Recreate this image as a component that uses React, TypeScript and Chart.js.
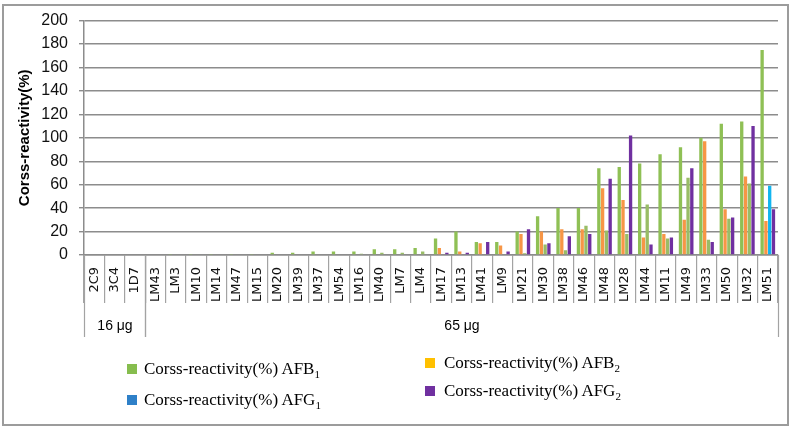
import React, { useEffect, useRef } from 'react';
import { Chart, registerables } from 'chart.js';

Chart.register(...registerables);

const categories = ['2C9', '3C4', '1D7', 'LM43', 'LM3', 'LM10', 'LM14', 'LM47', 'LM15', 'LM20', 'LM39', 'LM37', 'LM54', 'LM16', 'LM40', 'LM7', 'LM4', 'LM17', 'LM13', 'LM41', 'LM9', 'LM21', 'LM30', 'LM38', 'LM46', 'LM48', 'LM28', 'LM44', 'LM11', 'LM49', 'LM33', 'LM50', 'LM32', 'LM51'];

const afb1 = [0, 0, 0, 0, 0.5, 0.5, 0.5, 0.5, 0.5, 2, 2, 3, 3, 3, 5, 5, 6, 14, 20, 11, 11, 20, 33, 40, 40, 74, 75, 78, 86, 92, 100, 112, 114, 175];
const afb2 = [0, 0, 0, 0, 0, 0, 0, 0, 0, 0, 0, 0, 0, 0, 0, 0, 0, 6, 3, 10, 8, 18, 20, 22, 22, 57, 47, 15, 18, 30, 97, 39, 67, 29];
const afg1 = [0, 0, 0, 0, 0, 0, 0, 0, 0, 0, 0, 0, 0, 1, 2, 2, 3, 0, 0, 0, 0, 1.5, 9, 4, 25, 21, 18, 43, 14, 66, 13, 31, 61, 59];
const afg2 = [0, 0, 0, 0, 0, 0, 0, 0, 0, 0, 0, 0, 0, 0, 0, 0, 0, 2, 2, 11, 3, 22, 10, 16, 18, 65, 102, 9, 15, 74, 11, 32, 110, 39];

const yMin = 0;
const yMax = 200;
const yStep = 20;

const groupLabels = ['16 μg', '65 μg'];
const groupFirst = [0, 3];
const groupLast = [2, 33];

const seriesBase = ['Corss-reactivity(%) AFB', 'Corss-reactivity(%) AFB', 'Corss-reactivity(%) AFG', 'Corss-reactivity(%) AFG'];
const seriesSub = ['1', '2', '1', '2'];
const yTitle = 'Corss-reactivity(%)';

const groupPlugin = {
  id: 'groupAxis',
  afterDraw(chart: any) {
    const x = chart.scales.x;
    const ctx = chart.ctx;
    const half = (x.getPixelForValue(1) - x.getPixelForValue(0)) / 2;
    const top = chart.chartArea.bottom;
    ctx.save();
    ctx.strokeStyle = '#a3a3a3';
    ctx.lineWidth = 1.2;
    ctx.fillStyle = '#000';
    ctx.font = '14px "Liberation Sans", Arial, sans-serif';
    ctx.textAlign = 'center';
    ctx.textBaseline = 'middle';
    groupFirst.forEach((first, g) => {
      const left = Math.round(x.getPixelForValue(first) - half) + 0.5;
      const right = Math.round(x.getPixelForValue(groupLast[g]) + half) + 0.5;
      ctx.beginPath();
      ctx.moveTo(left, top);
      ctx.lineTo(left, top + 82);
      ctx.moveTo(right, top);
      ctx.lineTo(right, top + 82);
      ctx.stroke();
      ctx.fillText(groupLabels[g], (left + right) / 2, top + 71);
    });
    ctx.restore();
  },
};

const legendColors = ['#86bd4e', '#ffc000', '#2e80c8', '#7030a0'];
const legendPos = [
  { mx: 127, tx: 144, cy: 369 },
  { mx: 425, tx: 444, cy: 363 },
  { mx: 127, tx: 144, cy: 400 },
  { mx: 425, tx: 444, cy: 391 },
];

export default function App() {
  const canvasRef = useRef<HTMLCanvasElement | null>(null);

  useEffect(() => {
    if (!canvasRef.current) return;
    const chart = new Chart(canvasRef.current, {
      type: 'bar',
      data: {
        labels: categories,
        datasets: [
          { label: seriesBase[0] + seriesSub[0], data: afb1, backgroundColor: '#8fc055' },
          { label: seriesBase[1] + seriesSub[1], data: afb2, backgroundColor: '#f79646' },
          {
            label: seriesBase[2] + seriesSub[2],
            data: afg1,
            backgroundColor: (c: any) => (c.dataIndex === categories.length - 1 ? '#12b5f0' : '#99bd66'),
          },
          { label: seriesBase[3] + seriesSub[3], data: afg2, backgroundColor: '#7030a0' },
        ],
      },
      options: {
        animation: false,
        responsive: true,
        maintainAspectRatio: false,
        layout: { padding: { top: 17, right: 14, left: 0, bottom: 0 } },
        datasets: { bar: { barPercentage: 0.88, categoryPercentage: 0.74 } },
        plugins: { legend: { display: false }, tooltip: { enabled: false } },
        scales: {
          x: {
            grid: { drawOnChartArea: false, drawTicks: true, tickLength: 48, color: '#a3a3a3', lineWidth: 1.2, offset: true },
            border: { display: true, color: '#8c8c8c', width: 1.5 },
            ticks: {
              autoSkip: false,
              minRotation: 90,
              maxRotation: 90,
              padding: -36,
              color: '#111',
              font: { family: '"DejaVu Sans", Verdana, sans-serif', size: 13 },
            },
            afterFit: (s: any) => {
              s.height = 178;
            },
          },
          y: {
            min: yMin,
            max: yMax,
            ticks: {
              stepSize: yStep,
              padding: 11,
              color: '#111',
              font: { family: '"Liberation Sans", Arial, sans-serif', size: 16 },
            },
            grid: { color: '#8c8c8c', lineWidth: 1.4, drawTicks: true, tickLength: 5 },
            border: { display: true, color: '#8c8c8c', width: 1.5 },
            title: {
              display: true,
              text: yTitle,
              color: '#000',
              padding: { top: 16, bottom: 0 },
              font: { family: '"Liberation Sans", Arial, sans-serif', size: 15, weight: 'bold' },
            },
            afterFit: (s: any) => {
              s.width = 84;
            },
          },
        },
      },
      plugins: [groupPlugin],
    });
    return () => chart.destroy();
  }, []);

  return (
    <div style={{ position: 'fixed', left: 0, top: 0, width: 792, height: 433, background: '#fff', overflow: 'hidden' }}>
      <canvas ref={canvasRef} style={{ display: 'block' }} />
      <div
        style={{
          position: 'absolute',
          left: 2,
          top: 4,
          width: 787,
          height: 422,
          boxSizing: 'border-box',
          border: '2px solid #9c9c9c',
          pointerEvents: 'none',
        }}
      />
      {legendPos.map((p, i) => (
        <React.Fragment key={i}>
          <div
            style={{
              position: 'absolute',
              left: p.mx,
              top: p.cy - 5,
              width: 10,
              height: 10,
              background: legendColors[i],
            }}
          />
          <div
            style={{
              position: 'absolute',
              left: p.tx,
              top: p.cy - 11,
              height: 22,
              lineHeight: '22px',
              whiteSpace: 'nowrap',
              fontFamily: '"Liberation Serif", "Times New Roman", serif',
              fontSize: 17,
              color: '#000',
            }}
          >
            {seriesBase[i]}
            <span style={{ fontSize: 11, position: 'relative', top: 4 }}>{seriesSub[i]}</span>
          </div>
        </React.Fragment>
      ))}
    </div>
  );
}
